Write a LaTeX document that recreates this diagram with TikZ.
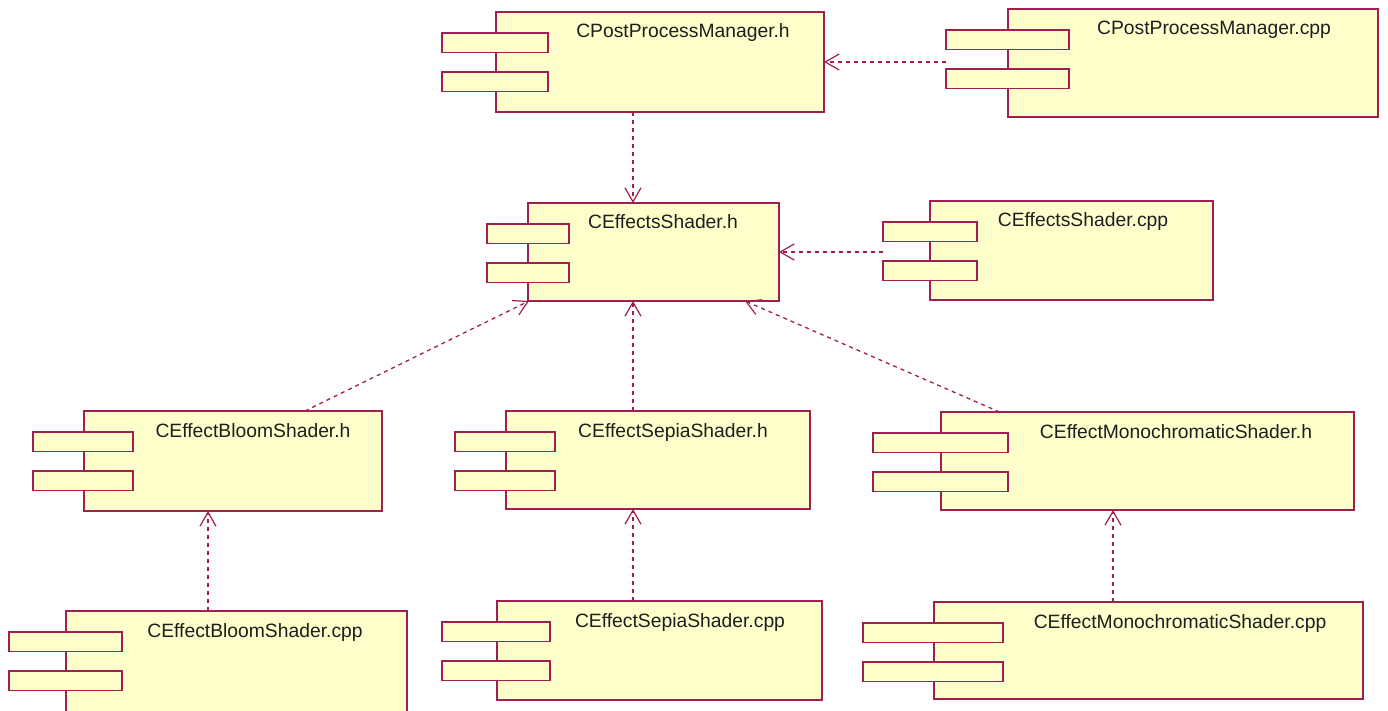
\documentclass[tikz,border=0pt]{standalone}
\usepackage{fontspec}
\setmainfont{Liberation Sans}
\usetikzlibrary{arrows.meta}
\definecolor{umlline}{RGB}{160,30,80}
\definecolor{umlfill}{RGB}{255,255,204}
\definecolor{umltext}{RGB}{30,30,30}

\tikzset{
  compbox/.style={draw=umlline, fill=umlfill, line width=1.4pt, inner sep=0pt, outer sep=0pt, rectangle},
  portbox/.style={draw=umlline, fill=umlfill, line width=1.4pt, inner sep=0pt, outer sep=0pt, rectangle},
  comptext/.style={text=umltext, font=\fontsize{19.3}{22}\selectfont, inner sep=0pt},
  dep/.style={draw=umlline, line width=1.3pt, dash pattern=on 4pt off 4pt,
    -{Straight Barb[length=14pt,width=16pt,line width=1.2pt]}}
}

% component: name, x1, y1, x2, y2, port x1, port x2, text x, text
\newcommand\umlcomp[9]{%
  \node[compbox, anchor=north west, minimum width={(#4-#2)*1pt}, minimum height={(#5-#3)*1pt}] (#1) at (#2,#3) {};
  \node[portbox, anchor=north west, minimum width={(#7-#6)*1pt}, minimum height=19.5pt] (#1-a) at (#6,{#3+21}) {};
  \node[portbox, anchor=north west, minimum width={(#7-#6)*1pt}, minimum height=19.5pt] (#1-b) at (#6,{#3+60}) {};
  \node[comptext, anchor=base] (#1-t) at (#8,{#3+26}) {#9};
}

\begin{document}
\begin{tikzpicture}[x=1pt,y=-1pt]
\useasboundingbox[fill=white] (0,0) rectangle (1388,711);

\umlcomp{ppmh}{496}{12}{824}{112}{442}{548}{683}{CPostProcessManager.h}
\umlcomp{ppmcpp}{1008}{9}{1378}{117}{946}{1069}{1214}{CPostProcessManager.cpp}
\umlcomp{esh}{528}{203}{779}{301}{487}{569}{663}{CEffectsShader.h}
\umlcomp{escpp}{930}{201}{1213}{300}{883}{977}{1083}{CEffectsShader.cpp}
\umlcomp{bloomh}{84}{411}{382}{511}{33}{133}{253}{CEffectBloomShader.h}
\umlcomp{sepiah}{506}{411}{810}{509}{455}{555}{673}{CEffectSepiaShader.h}
\umlcomp{monoh}{941}{412}{1354}{510}{873}{1008}{1176}{CEffectMonochromaticShader.h}
\umlcomp{bloomcpp}{66}{611}{407}{716}{9}{122}{255}{CEffectBloomShader.cpp}
\umlcomp{sepiacpp}{497}{601}{822}{700}{442}{550}{680}{CEffectSepiaShader.cpp}
\umlcomp{monocpp}{934}{602}{1363}{699}{863}{1003}{1180}{CEffectMonochromaticShader.cpp}

% vertical guide lines for the straight dependencies
\coordinate (xa) at (633,0);
\coordinate (xb) at (208,0);
\coordinate (xc) at (1113,0);

\draw[dep] (ppmcpp-a.west |- ppmh.east) -- (ppmh.east);
\draw[dep] (ppmh.south -| xa) -- (esh.north -| xa);
\draw[dep] (escpp-a.west |- esh.east) -- (esh.east);
\draw[dep] ([xshift=72pt]bloomh.north) -- ([xshift=1pt]esh.south west);
\draw[dep] (sepiah.north -| xa) -- (esh.south -| xa);
\draw[dep] ([xshift=-148pt]monoh.north) -- ([xshift=-34pt]esh.south east);
\draw[dep] (bloomcpp.north -| xb) -- (bloomh.south -| xb);
\draw[dep] (sepiacpp.north -| xa) -- (sepiah.south -| xa);
\draw[dep] (monocpp.north -| xc) -- (monoh.south -| xc);
\end{tikzpicture}
\end{document}
